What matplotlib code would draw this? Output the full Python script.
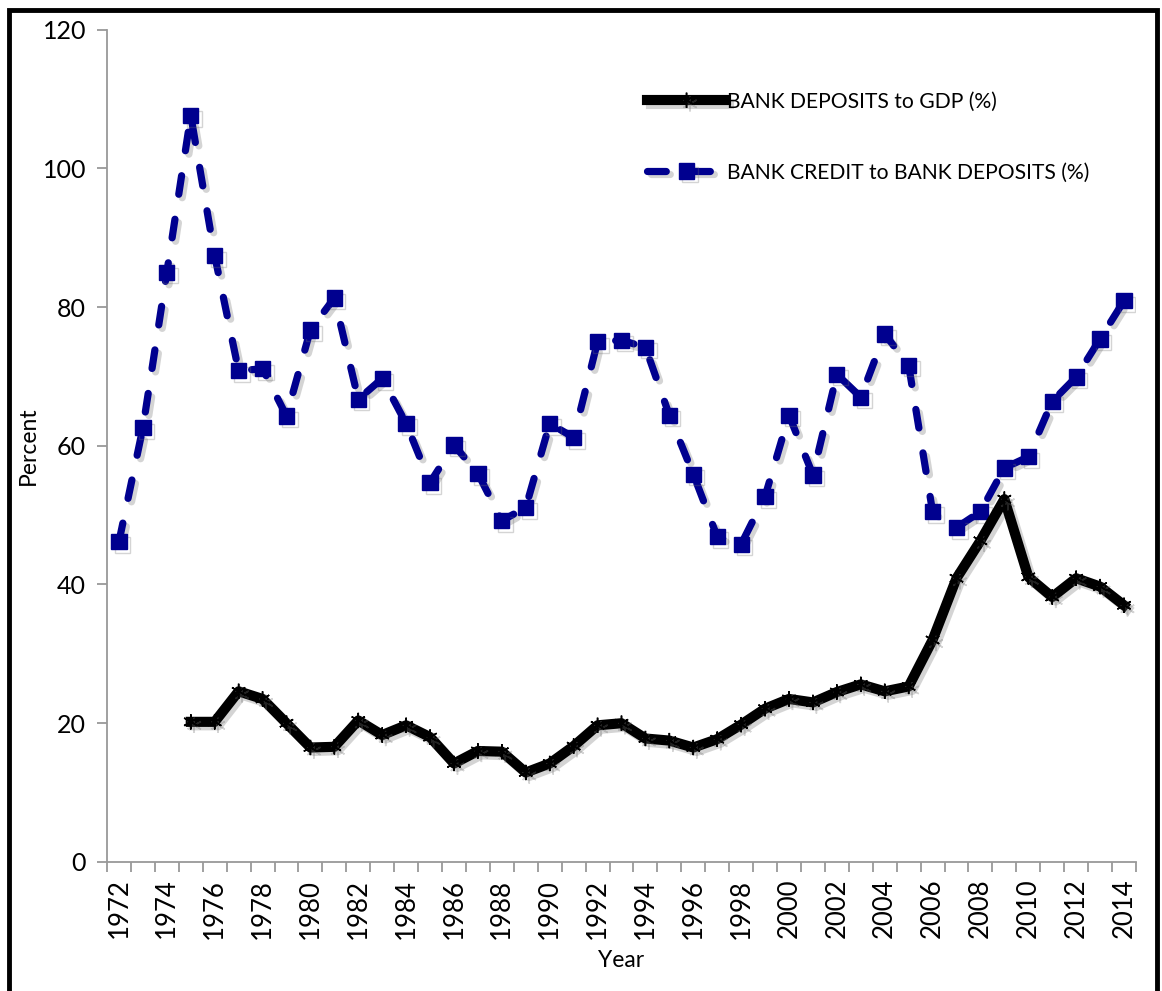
import matplotlib
matplotlib.use('Agg')
import matplotlib.pyplot as plt
import matplotlib.patheffects as pe
from matplotlib.patches import Rectangle

years_dep = list(range(1975, 2015))
deposits_gdp = [20.2, 20.2, 24.6, 23.5, 20.0, 16.5, 16.6, 20.4, 18.3, 19.7,
                18.0, 14.2, 16.0, 15.9, 12.9, 14.2, 16.7, 19.7, 20.0, 17.8,
                17.5, 16.5, 17.7, 19.8, 22.1, 23.5, 23.0, 24.5, 25.6, 24.6,
                25.3, 32.0, 40.9, 46.3, 52.3, 41.1, 38.2, 40.9, 39.7, 37.0]

years_cred = list(range(1972, 2015))
credit_deposits = [46.2, 62.6, 85.0, 107.6, 87.4, 70.8, 71.1, 64.3, 76.7, 81.3,
                   66.7, 69.7, 63.2, 54.7, 60.1, 56.0, 49.2, 51.1, 63.2, 61.2,
                   75.0, 75.2, 74.2, 64.4, 55.9, 46.9, 45.8, 52.7, 64.4, 55.8,
                   70.3, 67.0, 76.1, 71.6, 50.5, 48.2, 50.5, 56.8, 58.4, 66.4,
                   69.9, 75.4, 80.9]

tick_years = list(range(1972, 2015, 2))

plt.rcParams['font.family'] = ['Lato', 'DejaVu Sans']

fig = plt.figure(figsize=(11.62, 9.91), dpi=100)
ax = fig.add_axes([0.0921, 0.1302, 0.8855, 0.84])

shadow = [pe.SimpleLineShadow(offset=(2.5, -2.5), shadow_color='0.45', alpha=0.3), pe.Normal()]

navy = '#00008f'
ax.plot(years_dep, deposits_gdp, color='black', lw=7.3, solid_joinstyle='round',
        marker=(6, 2, 0), markersize=11, markeredgewidth=1.1, markeredgecolor='black',
        label='BANK DEPOSITS to GDP (%)', path_effects=shadow, zorder=3)
ax.plot(years_cred, credit_deposits, color=navy, lw=5.2, dashes=(2.6, 3.5),
        dash_capstyle='round', marker='s', markersize=11, markerfacecolor=navy,
        markeredgecolor=navy, label='BANK CREDIT to BANK DEPOSITS (%)',
        path_effects=shadow, zorder=2)

ax.set_xlim(1971.5, 2014.5)
ax.set_ylim(0, 120)
ax.set_yticks(range(0, 121, 20))
ax.set_xticks(tick_years)
ax.set_xticklabels([str(y) for y in tick_years], rotation=90)
ax.set_xticks([y + 0.5 for y in range(1971, 2015)], minor=True)
ax.tick_params(axis='x', which='major', length=0, pad=12, labelsize=18.5)
ax.tick_params(axis='x', which='minor', length=7, color='#999999', width=1.3)
ax.tick_params(axis='y', length=7, color='#999999', width=1.3, labelsize=18, pad=8)

for s in ['top', 'right']:
    ax.spines[s].set_visible(False)
for s in ['left', 'bottom']:
    ax.spines[s].set_color('#999999')
    ax.spines[s].set_linewidth(1.3)

ax.set_xlabel('Year', fontsize=16.5, labelpad=8)
ax.set_ylabel('Percent', fontsize=16.5, labelpad=3)

leg = ax.legend(loc='upper left', bbox_to_anchor=(0.515, 0.938), frameon=False,
                fontsize=15.2, handlelength=3.7, handletextpad=0.05, labelspacing=2.4,
                borderpad=0)

fig.patches.append(Rectangle((0.008, -0.05), 0.988, 1.04, transform=fig.transFigure,
                             fill=False, edgecolor='black', linewidth=3.5))

fig.savefig('out.png', dpi=100)
